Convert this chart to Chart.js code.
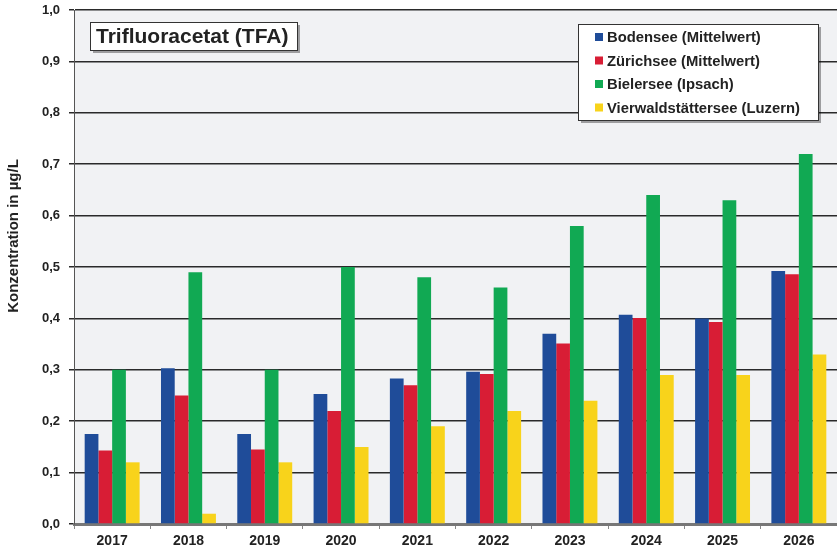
<!DOCTYPE html>
<html>
<head>
<meta charset="utf-8">
<script src="https://cdn.jsdelivr.net/npm/chart.js@4/dist/chart.umd.min.js"></script>
<style>
  html, body { margin: 0; padding: 0; background: #fff; }
  #wrap { width: 837px; height: 552px; }
</style>
</head>
<body>
<div id="wrap"><canvas id="tfaChart" width="837" height="552"></canvas></div>
<script>
const years = ['2017', '2018', '2019', '2020', '2021', '2022', '2023', '2024', '2025', '2026'];
const bodensee = [0.175, 0.303, 0.175, 0.253, 0.283, 0.296, 0.370, 0.407, 0.400, 0.492];
const zuerichsee = [0.143, 0.250, 0.145, 0.220, 0.270, 0.292, 0.351, 0.401, 0.393, 0.486];
const bielersee = [0.30, 0.49, 0.30, 0.50, 0.48, 0.46, 0.58, 0.64, 0.63, 0.72];
const vierwaldstaettersee = [0.12, 0.02, 0.12, 0.15, 0.19, 0.22, 0.24, 0.29, 0.29, 0.33];

const FONT = 'Liberation Sans, Arial, sans-serif';

// plot background + y title + title box + legend box
const decor = {
  id: 'decor',
  beforeDraw(chart) {
    const { ctx, chartArea: a } = chart;
    ctx.save();
    ctx.fillStyle = '#f1f2f4';
    ctx.fillRect(a.left, a.top, a.right - a.left, a.bottom - a.top);
    ctx.restore();
  },
  afterDraw(chart) {
    const ctx = chart.ctx;
    function box(x, y, w, h) {
      ctx.fillStyle = 'rgba(0,0,0,0.35)';
      ctx.fillRect(x + 3, y + 3, w, h);
      ctx.fillStyle = '#fff';
      ctx.fillRect(x, y, w, h);
      ctx.strokeStyle = '#333';
      ctx.lineWidth = 1;
      ctx.strokeRect(x + 0.5, y + 0.5, w, h);
    }
    ctx.save();
    // y axis title
    ctx.save();
    ctx.translate(14, 236);
    ctx.rotate(-Math.PI / 2);
    ctx.fillStyle = '#222';
    ctx.font = 'bold 15px ' + FONT;
    ctx.textAlign = 'center';
    ctx.textBaseline = 'middle';
    ctx.fillText('Konzentration in µg/L', 0, 0);
    ctx.restore();
    // title
    box(90, 22, 207, 28);
    ctx.fillStyle = '#222';
    ctx.font = 'bold 21px ' + FONT;
    ctx.textBaseline = 'middle';
    ctx.fillText('Trifluoracetat (TFA)', 96, 37);
    // legend
    box(578, 24, 240, 96);
    ctx.font = 'bold 14.8px ' + FONT;
    chart.data.datasets.forEach((ds, i) => {
      const y = 37 + i * 23.5;
      ctx.fillStyle = ds.backgroundColor;
      ctx.fillRect(595, y - 4, 8, 8);
      ctx.fillStyle = '#222';
      ctx.fillText(ds.label, 607, y + 1);
    });
    ctx.restore();
  }
};

new Chart(document.getElementById('tfaChart').getContext('2d'), {
  type: 'bar',
  data: {
    labels: years,
    datasets: [
      { label: 'Bodensee (Mittelwert)', data: bodensee, backgroundColor: '#1f4c99' },
      { label: 'Zürichsee (Mittelwert)', data: zuerichsee, backgroundColor: '#d81d35' },
      { label: 'Bielersee (Ipsach)', data: bielersee, backgroundColor: '#11a953' },
      { label: 'Vierwaldstättersee (Luzern)', data: vierwaldstaettersee, backgroundColor: '#f8d31b' }
    ]
  },
  options: {
    responsive: false,
    animation: false,
    layout: { padding: { top: 10, right: 0, left: 0, bottom: 0 } },
    plugins: {
      legend: { display: false },
      tooltip: { enabled: false }
    },
    datasets: { bar: { categoryPercentage: 0.72, barPercentage: 1.0, borderWidth: 0 } },
    scales: {
      x: {
        grid: { display: true, drawOnChartArea: false, offset: true, tickLength: 5, color: '#888' },
        border: { color: '#777', width: 3 },
        ticks: { color: '#222', font: { family: FONT, size: 14, weight: 'bold' }, padding: 4 },
        afterFit(scale) { scale.height = 28; }
      },
      y: {
        min: 0,
        max: 1,
        grid: { color: '#2a2a2a', lineWidth: 1.5, tickLength: 5 },
        border: { color: '#555', width: 1 },
        ticks: {
          stepSize: 0.1,
          color: '#222',
          font: { family: FONT, size: 13, weight: 'bold' },
          padding: 9,
          callback: v => v.toFixed(1).replace('.', ',')
        },
        afterFit(scale) {
          scale.width = 74;
          scale.paddingTop = 0;
          scale.paddingBottom = 0;
        }
      }
    }
  },
  plugins: [decor]
});
</script>
</body>
</html>
